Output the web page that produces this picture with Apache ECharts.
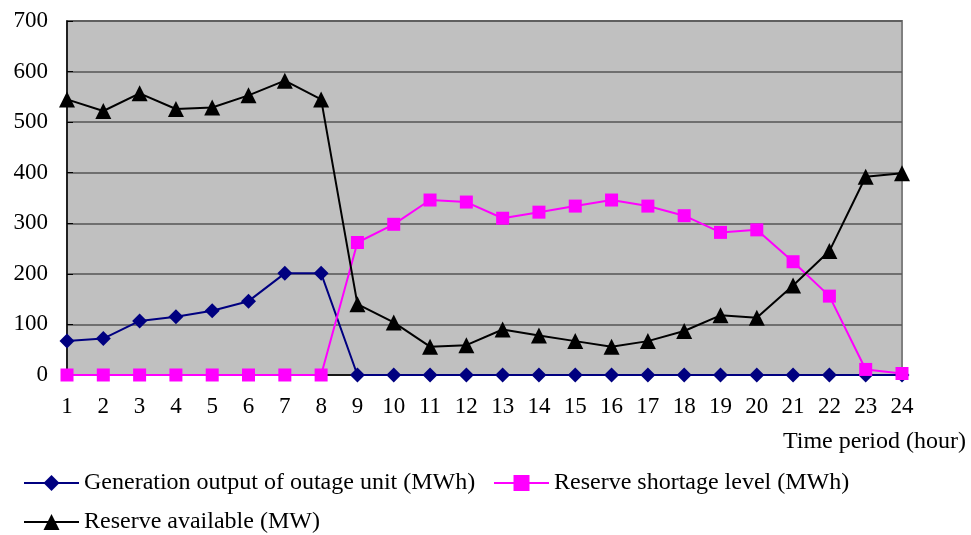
<!DOCTYPE html>
<html><head><meta charset="utf-8">
<script src="https://cdn.jsdelivr.net/npm/echarts@6/dist/echarts.min.js"></script>
<style>html,body{margin:0;padding:0;background:#fff}#c{width:971px;height:535px}</style>
</head><body><div id="c"></div>
<script>
const hours = ['1','2','3','4','5','6','7','8','9','10','11','12','13','14','15','16','17','18','19','20','21','22','23','24'];
const genOutput = [67,72,107,115,127,146,201,201,0,0,0,0,0,0,0,0,0,0,0,0,0,0,0,0];
const shortage = [0,0,0,0,0,0,0,0,262,298,346,342,310,322,334,346,334,315,282,287,224,156,11,3];
const reserve = [545,522,557,526,529,553,582,545,140,104,56,59,90,78,67,56,67,87,118,113,177,245,392,399];
const yTicks = {min:0, max:700, interval:100};
const names = ['Generation output of outage unit (MWh)','Reserve shortage level (MWh)','Reserve available (MW)'];

const font = 'Liberation Serif, Times New Roman, serif';
const chart = echarts.init(document.getElementById('c'));
const legendText = {fontFamily: font, fontSize: 24, color: '#000'};
chart.setOption({
  animation: false,
  grid: {left: 67, right: 69, top: 21, bottom: 160, show: true, backgroundColor: '#c0c0c0', borderColor: '#808080', borderWidth: 2},
  xAxis: {
    type: 'category', data: hours, boundaryGap: false,
    axisLine: {lineStyle: {color: '#000', width: 1.5}},
    axisTick: {show: false},
    axisLabel: {fontFamily: font, fontSize: 23, color: '#000', margin: 20},
    splitLine: {show: false}
  },
  yAxis: {
    type: 'value', min: yTicks.min, max: yTicks.max, interval: yTicks.interval,
    axisLine: {show: true, lineStyle: {color: '#000', width: 1.5}},
    axisTick: {show: true, inside: true, length: 6, lineStyle: {color: '#000'}},
    axisLabel: {fontFamily: font, fontSize: 23, color: '#000', margin: 19},
    splitLine: {lineStyle: {color: '#555', width: 1.5}}
  },
  legend: [
    {data: [names[0]], left: 23, top: 471, itemWidth: 55, itemHeight: 20, textStyle: legendText, padding: 0},
    {data: [names[1]], left: 493, top: 471, itemWidth: 55, itemHeight: 20, textStyle: legendText, padding: 0},
    {data: [names[2]], left: 23, top: 510, itemWidth: 55, itemHeight: 20, textStyle: legendText, padding: 0}
  ],
  graphic: [{
    type: 'text', right: 5, top: 430,
    style: {text: 'Time period (hour)', font: '24px ' + font, fill: '#000'}
  }],
  series: [
    {name: names[0], type: 'line', data: genOutput, symbol: 'diamond', symbolSize: 15,
     itemStyle: {color: '#000080'}, lineStyle: {color: '#000080', width: 2}},
    {name: names[1], type: 'line', data: shortage, symbol: 'rect', symbolSize: 13,
     itemStyle: {color: '#ff00ff'}, lineStyle: {color: '#ff00ff', width: 2}},
    {name: names[2], type: 'line', data: reserve, symbol: 'triangle', symbolSize: 16,
     itemStyle: {color: '#000'}, lineStyle: {color: '#000', width: 2}}
  ]
});
</script></body></html>
